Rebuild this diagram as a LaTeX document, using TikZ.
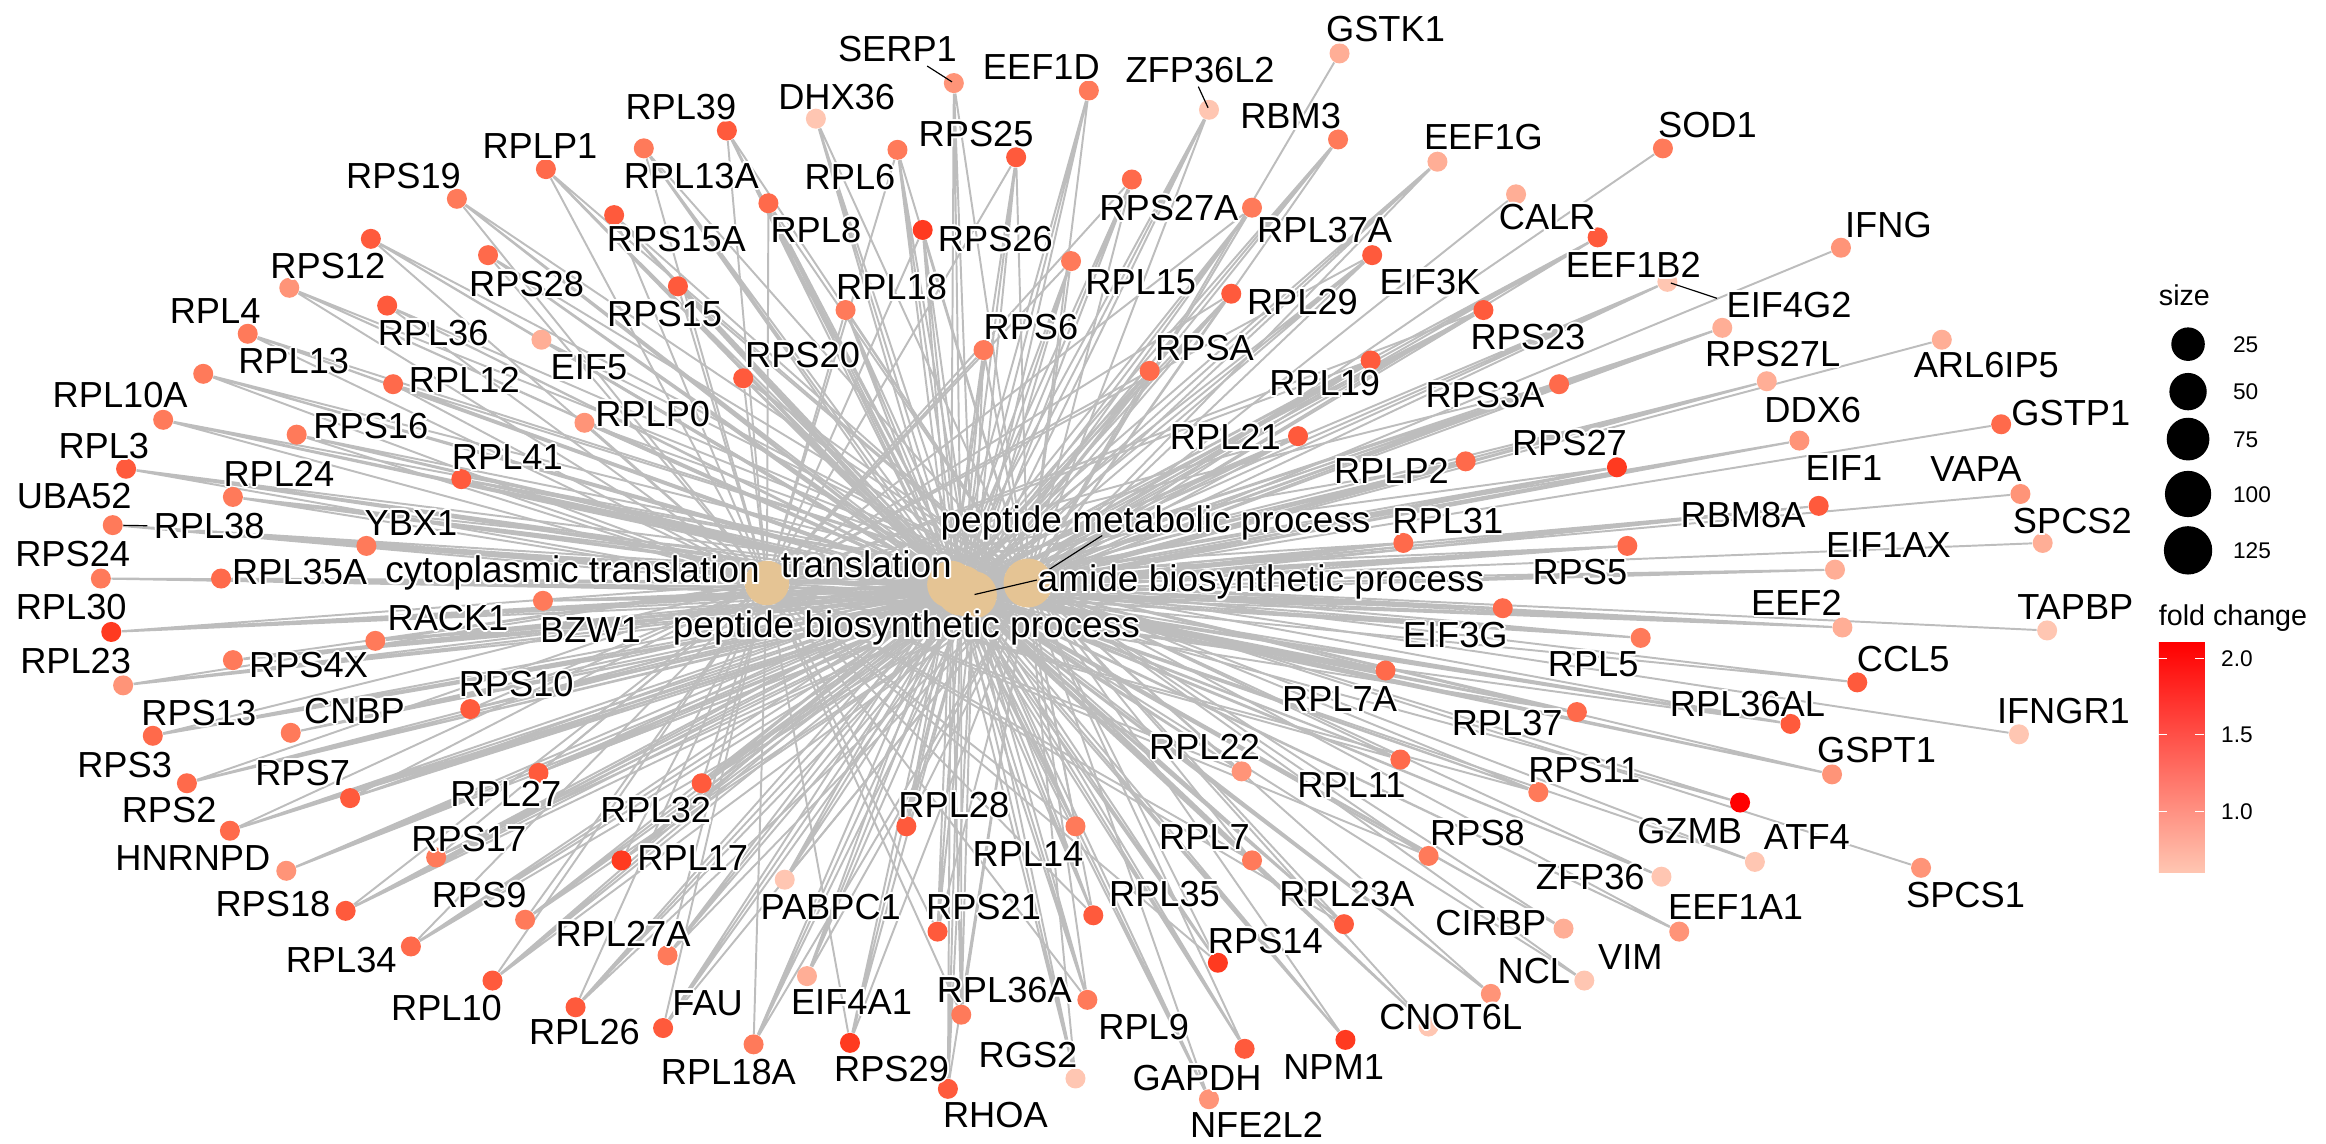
\documentclass[tikz,border=0pt]{standalone}
\usepackage{fontspec}
\setmainfont{Liberation Sans}
\pgfdeclarelayer{bg}
\pgfsetlayers{bg,main}
\definecolor{fcA}{HTML}{FFC6B2}
\definecolor{fcB}{HTML}{FFAE96}
\definecolor{fcC}{HTML}{FF9478}
\definecolor{fcD}{HTML}{FF7A5A}
\definecolor{fcE}{HTML}{FF6A4B}
\definecolor{fcF}{HTML}{FF5A3C}
\definecolor{fcG}{HTML}{FF3A20}
\definecolor{fcH}{HTML}{FF0000}
\definecolor{cbmid}{HTML}{FF8E72}
\definecolor{catcol}{HTML}{E5C494}
\definecolor{edgecol}{HTML}{BDBDBD}
\newlength\hl
\newcommand\hal[1]{\setlength\hl{0.055em}%
\rlap{\color{white}\kern\hl #1}%
\rlap{\color{white}\kern-\hl #1}%
\rlap{\color{white}\raisebox{\hl}{#1}}%
\rlap{\color{white}\raisebox{-\hl}{#1}}%
\rlap{\color{white}\kern0.7\hl\raisebox{0.7\hl}{#1}}%
\rlap{\color{white}\kern-0.7\hl\raisebox{0.7\hl}{#1}}%
\rlap{\color{white}\kern0.7\hl\raisebox{-0.7\hl}{#1}}%
\rlap{\color{white}\kern-0.7\hl\raisebox{-0.7\hl}{#1}}%
#1}
\tikzset{
  gdot/.style={circle, inner sep=0pt, minimum size=0.27cm, draw=none},
  cat/.style={circle, inner sep=0pt, fill=catcol, draw=none},
  edge/.style={draw=edgecol, line width=0.75pt},
  lab/.style={inner sep=0pt, text height=10pt, text depth=0pt, font=\fontsize{13.9pt}{16pt}\selectfont},
  catlab/.style={inner sep=0pt, text height=10.2pt, text depth=0pt, font=\fontsize{14.2pt}{16pt}\selectfont},
  leader/.style={draw=black, line width=0.45pt},
  legtitle/.style={inner sep=0pt, anchor=west, text height=8pt, text depth=0pt, font=\fontsize{11pt}{13pt}\selectfont},
  legtext/.style={inner sep=0pt, anchor=west, text height=6.2pt, text depth=0pt, font=\fontsize{8.7pt}{10pt}\selectfont},
  legdot/.style={circle, inner sep=0pt, fill=black, draw=none}
}
\newcommand\edR[1]{\draw[edge] (#1)--(CT) (#1)--(TR) (#1)--(AB) (#1)--(PB) (#1)--(PM);}
\newcommand\edT[1]{\draw[edge] (#1)--(TR) (#1)--(AB) (#1)--(PB) (#1)--(PM);}
\newcommand\edW[1]{\draw[edge] (#1)--(AB) (#1)--(PM);}
\newcommand\edM[1]{\draw[edge] (#1)--(PM);}
\newcommand\gdt[5]{\node[gdot,fill=#4] (d#1) at (#2,#3) {};%
  \begin{pgfonlayer}{bg}\csname ed#5\endcsname{d#1}\end{pgfonlayer}}
\newcommand\lbl[3]{\node[lab] (l#3) at (#1,#2) {\hal{#3}};}
\begin{document}
\begin{tikzpicture}[x=0.02cm, y=-0.02cm]
\useasboundingbox (0,0) rectangle (1568,771);
% category nodes
\node[cat, minimum size=0.60cm] (CT) at (517,393) {};
\node[cat, minimum size=0.64cm] (TR) at (641,394) {};
\node[cat, minimum size=0.68cm] (PB) at (648,398) {};
\node[cat, minimum size=0.64cm] (AB) at (656,401) {};
\node[cat, minimum size=0.66cm] (PM) at (693,393) {};
% gene dots with their edges
\gdt{RPLP1}{368}{114}{fcE}{R}
\gdt{RPS19}{308}{134}{fcD}{R}
\gdt{X1}{250}{161}{fcF}{R}
\gdt{RPS28}{329}{172}{fcE}{R}
\gdt{RPS12}{195}{194}{fcC}{R}
\gdt{RPL36}{261}{206}{fcF}{R}
\gdt{RPL4}{167}{225}{fcD}{R}
\gdt{EIF5}{365}{229}{fcB}{T}
\gdt{RPL13}{137}{252}{fcD}{R}
\gdt{RPL12}{265}{259}{fcE}{R}
\gdt{SERP1}{643}{56}{fcC}{T}
\gdt{EEF1D}{734}{61}{fcD}{T}
\gdt{DHX36}{550}{80}{fcA}{T}
\gdt{RPL39}{490}{88}{fcF}{R}
\gdt{RPL13A}{434}{100}{fcD}{R}
\gdt{RPL6}{605}{101}{fcD}{R}
\gdt{RPS25}{685}{106}{fcF}{R}
\gdt{X2}{763}{121}{fcE}{R}
\gdt{RPS15A}{414}{145}{fcF}{R}
\gdt{RPL8}{518}{137}{fcE}{R}
\gdt{RPS26}{622}{155}{fcG}{R}
\gdt{RPL15}{722}{176}{fcD}{R}
\gdt{RPS15}{457}{193}{fcF}{R}
\gdt{RPL18}{570}{209}{fcD}{R}
\gdt{RPS6}{663}{236}{fcD}{R}
\gdt{RPS20}{501}{255}{fcF}{R}
\gdt{RPSA}{775}{250}{fcE}{R}
\gdt{ZFP36L2}{815}{74}{fcA}{T}
\gdt{GSTK1}{903}{36}{fcB}{M}
\gdt{RBM3}{902}{94}{fcD}{T}
\gdt{EEF1G}{969}{109}{fcB}{T}
\gdt{SOD1}{1121}{100}{fcD}{M}
\gdt{CALR}{1022}{131}{fcB}{M}
\gdt{RPS27A}{844}{140}{fcD}{R}
\gdt{EEF1B2}{1077}{160}{fcF}{T}
\gdt{RPL37A}{925}{172}{fcF}{R}
\gdt{RPL29}{830}{198}{fcF}{R}
\gdt{RPS23}{1000}{209}{fcF}{R}
\gdt{RPL19}{924}{243}{fcF}{R}
\gdt{RPS3A}{1051}{259}{fcE}{R}
\gdt{RPS27L}{1161}{221}{fcB}{T}
\gdt{EIF4G2}{1124}{190}{fcA}{T}
\gdt{IFNG}{1241}{167}{fcC}{M}
\gdt{ARL6IP5}{1309}{229}{fcB}{M}
\gdt{DDX6}{1191}{257}{fcB}{T}
\gdt{EIF1}{1213}{297}{fcC}{T}
\gdt{GSTP1}{1349}{286}{fcE}{M}
\gdt{VAPA}{1362}{333}{fcC}{M}
\gdt{RBM8A}{1226}{341}{fcF}{T}
\gdt{SPCS2}{1377}{366}{fcB}{M}
\gdt{EIF1AX}{1237}{384}{fcB}{T}
\gdt{EEF2}{1242}{423}{fcB}{T}
\gdt{TAPBP}{1380}{425}{fcA}{M}
\gdt{CCL5}{1252}{460}{fcF}{W}
\gdt{IFNGR1}{1361}{495}{fcA}{M}
\gdt{RPL36AL}{1207}{488}{fcF}{R}
\gdt{GSPT1}{1235}{522}{fcC}{T}
\gdt{GZMB}{1173}{541}{fcH}{W}
\gdt{ATF4}{1183}{581}{fcA}{W}
\gdt{SPCS1}{1295}{585}{fcC}{M}
\gdt{EEF1A1}{1132}{628}{fcC}{T}
\gdt{RPL21}{875}{294}{fcF}{R}
\gdt{RPLP2}{988}{311}{fcE}{R}
\gdt{RPS27}{1090}{315}{fcG}{R}
\gdt{RPL31}{946}{366}{fcE}{R}
\gdt{RPS5}{1097}{368}{fcE}{R}
\gdt{EIF3G}{1013}{410}{fcE}{T}
\gdt{RPL5}{1106}{430}{fcD}{R}
\gdt{RPL7A}{934}{452}{fcE}{R}
\gdt{RPL37}{1063}{480}{fcE}{R}
\gdt{RPL22}{837}{520}{fcC}{R}
\gdt{RPL11}{944}{512}{fcE}{R}
\gdt{RPS11}{1037}{534}{fcD}{R}
\gdt{RPL7}{844}{580}{fcD}{R}
\gdt{RPS8}{963}{577}{fcD}{R}
\gdt{ZFP36}{1120}{591}{fcA}{T}
\gdt{RPL23A}{906}{623}{fcF}{R}
\gdt{CIRBP}{1054}{626}{fcB}{T}
\gdt{VIM}{1068}{661}{fcA}{W}
\gdt{NCL}{1005}{670}{fcC}{T}
\gdt{RPS14}{821}{649}{fcG}{R}
\gdt{CNOT6L}{963}{692}{fcA}{T}
\gdt{GAPDH}{839}{707}{fcF}{T}
\gdt{NPM1}{907}{701}{fcG}{T}
\gdt{NFE2L2}{815}{741}{fcC}{T}
\gdt{RPL9}{733}{674}{fcD}{R}
\gdt{RPL35}{737}{617}{fcF}{R}
\gdt{RGS2}{725}{727}{fcA}{T}
\gdt{RHOA}{639}{734}{fcF}{T}
\gdt{RPL36A}{648}{684}{fcD}{R}
\gdt{RPS21}{632}{628}{fcF}{R}
\gdt{RPL14}{725}{557}{fcD}{R}
\gdt{RPL28}{611}{557}{fcF}{R}
\gdt{RPS29}{573}{703}{fcG}{R}
\gdt{EIF4A1}{544}{658}{fcB}{T}
\gdt{PABPC1}{529}{593}{fcA}{T}
\gdt{RPL18A}{508}{704}{fcD}{R}
\gdt{FAU}{447}{693}{fcF}{R}
\gdt{RPL27A}{450}{644}{fcD}{R}
\gdt{RPL17}{419}{580}{fcG}{R}
\gdt{RPL32}{473}{528}{fcF}{R}
\gdt{RPL26}{388}{679}{fcF}{R}
\gdt{RPL10}{332}{661}{fcF}{R}
\gdt{RPL34}{277}{638}{fcE}{R}
\gdt{RPS9}{354}{620}{fcD}{R}
\gdt{RPS18}{233}{614}{fcF}{R}
\gdt{RPS17}{294}{578}{fcD}{R}
\gdt{HNRNPD}{193}{587}{fcC}{T}
\gdt{RPS2}{155}{560}{fcE}{R}
\gdt{RPL27}{363}{521}{fcF}{R}
\gdt{RPS7}{236}{538}{fcF}{R}
\gdt{RPS3}{126}{528}{fcE}{R}
\gdt{RPS13}{103}{496}{fcE}{R}
\gdt{CNBP}{196}{494}{fcD}{T}
\gdt{RPS10}{317}{478}{fcF}{R}
\gdt{RPL23}{83}{462}{fcC}{R}
\gdt{RPS4X}{157}{445}{fcD}{R}
\gdt{RACK1}{253}{432}{fcD}{R}
\gdt{RPL30}{75}{426}{fcG}{R}
\gdt{BZW1}{366}{405}{fcD}{T}
\gdt{RPL35A}{149}{390}{fcE}{R}
\gdt{RPS24}{68}{390}{fcD}{R}
\gdt{YBX1}{247}{368}{fcD}{T}
\gdt{RPL38}{76}{354}{fcD}{R}
\gdt{RPL24}{157}{335}{fcD}{R}
\gdt{RPL3}{85}{316}{fcF}{R}
\gdt{RPL41}{311}{323}{fcF}{R}
\gdt{RPS16}{200}{293}{fcD}{R}
\gdt{RPL10A}{110}{283}{fcD}{R}
\gdt{RPLP0}{394}{285}{fcC}{R}
% leader segments
\coordinate (kSERP1) at (625,44.5);
\coordinate (kZFP36L2) at (807.8,58.4);
\coordinate (kEIF4G2) at (1157.4,201.1);
\coordinate (kRPL38) at (99.3,354.4);
\coordinate (kPM) at (743,361);
\coordinate (kAB) at (699,391);
\draw[leader, shorten >=0.03cm] (kSERP1) -- (dSERP1.center);
\draw[leader, shorten >=0.03cm] (kZFP36L2) -- (dZFP36L2.center);
\draw[leader, shorten >=0.05cm] (kEIF4G2) -- (dEIF4G2.center);
\draw[leader] (dRPL38) -- (kRPL38);
\draw[leader] (kPM) -- (PM);
\draw[leader, shorten >=0.02cm] (kAB) -- (AB.center);
% gene labels
\lbl{364}{98}{RPLP1}
\lbl{272}{118}{RPS19}
\lbl{221}{179}{RPS12}
\lbl{355}{191}{RPS28}
\lbl{145}{209}{RPL4}
\lbl{292}{224}{RPL36}
\lbl{198}{243}{RPL13}
\lbl{313}{256}{RPL12}
\lbl{397}{247}{EIF5}
\lbl{81}{266}{RPL10A}
\lbl{605}{33}{SERP1}
\lbl{702}{45}{EEF1D}
\lbl{564}{65}{DHX36}
\lbl{459}{72}{RPL39}
\lbl{466}{118}{RPL13A}
\lbl{573}{119}{RPL6}
\lbl{658}{90}{RPS25}
\lbl{456}{161}{RPS15A}
\lbl{550}{155}{RPL8}
\lbl{671}{161}{RPS26}
\lbl{601}{193}{RPL18}
\lbl{448}{211}{RPS15}
\lbl{695}{220}{RPS6}
\lbl{541}{239}{RPS20}
\lbl{809}{47}{ZFP36L2}
\lbl{934}{19}{GSTK1}
\lbl{870}{78}{RBM3}
\lbl{1000}{92}{EEF1G}
\lbl{1151}{84}{SOD1}
\lbl{1043}{146}{CALR}
\lbl{788}{140}{RPS27A}
\lbl{893}{155}{RPL37A}
\lbl{964}{190}{EIF3K}
\lbl{1101}{178}{EEF1B2}
\lbl{878}{203}{RPL29}
\lbl{1030}{227}{RPS23}
\lbl{893}{258}{RPL19}
\lbl{1001}{266}{RPS3A}
\lbl{1195}{238}{RPS27L}
\lbl{1206}{205}{EIF4G2}
\lbl{769}{190}{RPL15}
\lbl{812}{234}{RPSA}
\lbl{1273}{151}{IFNG}
\lbl{1339}{246}{ARL6IP5}
\lbl{1222}{276}{DDX6}
\lbl{1396}{278}{GSTP1}
\lbl{1243}{315}{EIF1}
\lbl{1332}{316}{VAPA}
\lbl{1175}{347}{RBM8A}
\lbl{1397}{351}{SPCS2}
\lbl{1273}{367}{EIF1AX}
\lbl{1211}{406}{EEF2}
\lbl{1399}{409}{TAPBP}
\lbl{1283}{444}{CCL5}
\lbl{1391}{479}{IFNGR1}
\lbl{1178}{474}{RPL36AL}
\lbl{1265}{505}{GSPT1}
\lbl{1139}{560}{GZMB}
\lbl{1218}{564}{ATF4}
\lbl{1325}{603}{SPCS1}
\lbl{1170}{611}{EEF1A1}
\lbl{826}{294}{RPL21}
\lbl{938}{317}{RPLP2}
\lbl{1058}{298}{RPS27}
\lbl{976}{351}{RPL31}
\lbl{1065}{385}{RPS5}
\lbl{981}{428}{EIF3G}
\lbl{1074}{447}{RPL5}
\lbl{903}{471}{RPL7A}
\lbl{1016}{487}{RPL37}
\lbl{812}{503}{RPL22}
\lbl{911}{529}{RPL11}
\lbl{1068}{519}{RPS11}
\lbl{812}{564}{RPL7}
\lbl{996}{561}{RPS8}
\lbl{1072}{591}{ZFP36}
\lbl{908}{602}{RPL23A}
\lbl{1005}{622}{CIRBP}
\lbl{1099}{645}{VIM}
\lbl{1034}{654}{NCL}
\lbl{853}{634}{RPS14}
\lbl{978}{685}{CNOT6L}
\lbl{807}{726}{GAPDH}
\lbl{899}{719}{NPM1}
\lbl{847}{758}{NFE2L2}
\lbl{771}{692}{RPL9}
\lbl{785}{602}{RPL35}
\lbl{693}{711}{RGS2}
\lbl{671}{751}{RHOA}
\lbl{677}{667}{RPL36A}
\lbl{663}{611}{RPS21}
\lbl{693}{575}{RPL14}
\lbl{643}{542}{RPL28}
\lbl{601}{720}{RPS29}
\lbl{574}{675}{EIF4A1}
\lbl{560}{611}{PABPC1}
\lbl{491}{722}{RPL18A}
\lbl{477}{676}{FAU}
\lbl{420}{629}{RPL27A}
\lbl{467}{578}{RPL17}
\lbl{442}{546}{RPL32}
\lbl{394}{695}{RPL26}
\lbl{301}{679}{RPL10}
\lbl{230}{647}{RPL34}
\lbl{323}{603}{RPS9}
\lbl{184}{609}{RPS18}
\lbl{316}{565}{RPS17}
\lbl{130}{578}{HNRNPD}
\lbl{114}{546}{RPS2}
\lbl{341}{535}{RPL27}
\lbl{204}{521}{RPS7}
\lbl{84}{515}{RPS3}
\lbl{134}{480}{RPS13}
\lbl{239}{479}{CNBP}
\lbl{348}{461}{RPS10}
\lbl{51}{445}{RPL23}
\lbl{208}{448}{RPS4X}
\lbl{302}{416}{RACK1}
\lbl{48}{409}{RPL30}
\lbl{398}{424}{BZW1}
\lbl{202}{385}{RPL35A}
\lbl{49}{373}{RPS24}
\lbl{277}{352}{YBX1}
\lbl{141}{354}{RPL38}
\lbl{50}{334}{UBA52}
\lbl{188}{319}{RPL24}
\lbl{70}{300}{RPL3}
\lbl{342}{308}{RPL41}
\lbl{250}{287}{RPS16}
\lbl{440}{279}{RPLP0}
% category labels
\node[catlab] (lCT) at (386,384) {\hal{cytoplasmic translation}};
\node[catlab] (lTR) at (584,380) {\hal{translation}};
\node[catlab] (lPM) at (779,350) {\hal{peptide metabolic process}};
\node[catlab] (lAB) at (850,390) {\hal{amide biosynthetic process}};
\node[catlab] (lPB) at (611,421) {\hal{peptide biosynthetic process}};
% legend: size
\node[legtitle] (tsize) at (1455,199) {size};
\node[legdot, minimum size=0.452cm] (s25) at (1475,232) {};
\node[legdot, minimum size=0.504cm] (s50) at (1475,264) {};
\node[legdot, minimum size=0.576cm] (s75) at (1475,296) {};
\node[legdot, minimum size=0.624cm] (s100) at (1475,333) {};
\node[legdot, minimum size=0.652cm] (s125) at (1475,371) {};
\node[legtext] (t25) at (1505,232) {25};
\node[legtext] (t50) at (1505,264) {50};
\node[legtext] (t75) at (1505,296) {75};
\node[legtext] (t100) at (1505,333) {100};
\node[legtext] (t125) at (1505,371) {125};
% legend: fold change
\node[legtitle] (tfc) at (1455,414.6) {fold change};
\node[inner sep=0pt, anchor=north west, minimum width=0.62cm, minimum height=3.1cm,
      top color=fcH, middle color=cbmid, bottom color=fcA, draw=none] (cbar) at (1455,433) {};
\draw[white, line width=0.5pt] (1455,443.8) -- (1461,443.8) (1480,443.8) -- (1486,443.8)
  (1455,495) -- (1461,495) (1480,495) -- (1486,495)
  (1455,547) -- (1461,547) (1480,547) -- (1486,547);
\node[legtext] (c20) at (1497,443.8) {2.0};
\node[legtext] (c15) at (1497,495) {1.5};
\node[legtext] (c10) at (1497,547) {1.0};
\end{tikzpicture}
\end{document}
